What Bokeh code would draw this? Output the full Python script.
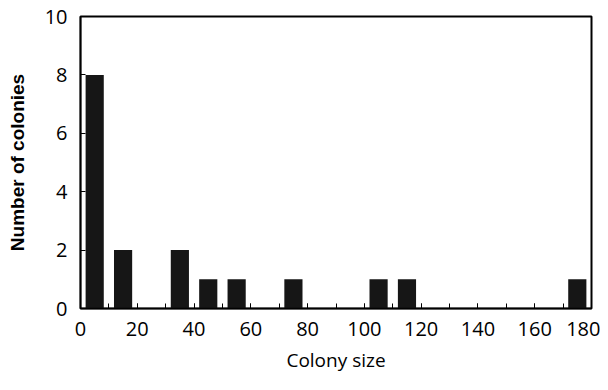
from bokeh.plotting import figure
from bokeh.models import Range1d, FixedTicker
from bokeh.embed import file_html
from bokeh.resources import INLINE

bin_centers = [5, 15, 25, 35, 45, 55, 65, 75, 85, 95, 105, 115, 125, 135, 145, 155, 165, 175]
counts =      [8, 2, 0, 2, 1, 1, 0, 1, 0, 0, 1, 1, 0, 0, 0, 0, 0, 1]
x_ticks = [0, 20, 40, 60, 80, 100, 120, 140, 160, 180]
y_ticks = [0, 2, 4, 6, 8, 10]

p = figure(width=600, height=382, output_backend="svg", toolbar_location=None,
           x_range=Range1d(0, 180), y_range=Range1d(0, 10),
           min_border_left=80, min_border_right=9, min_border_top=16, min_border_bottom=74)

p.vbar(x=bin_centers, top=counts, width=6.4, bottom=0, fill_color="#161616", line_color=None)

p.grid.visible = False
p.outline_line_color = "black"
p.outline_line_width = 2
p.outline_line_alpha = 1

for ax in (p.xaxis, p.yaxis):
    ax.axis_line_color = "black"
    ax.axis_line_width = 1.5
    ax.major_tick_out = 0
    ax.major_tick_in = 5
    ax.major_tick_line_color = "black"
    ax.major_label_text_font = "Open Sans"
    ax.major_label_text_font_size = "20px"
    ax.major_label_text_color = "black"

p.xaxis.ticker = FixedTicker(ticks=x_ticks, minor_ticks=list(range(0, 181, 10)))
p.xaxis.minor_tick_in = 5
p.xaxis.minor_tick_out = 0
p.xaxis.minor_tick_line_color = "black"
p.xaxis.major_label_standoff = 13
p.xaxis.axis_label = "Colony size"
p.xaxis.axis_label_text_font = "Open Sans"
p.xaxis.axis_label_text_font_style = "normal"
p.xaxis.axis_label_text_font_size = "19px"
p.xaxis.axis_label_standoff = 8
p.xaxis.axis_label_text_color = "black"

p.yaxis.ticker = FixedTicker(ticks=y_ticks)
p.yaxis.minor_tick_line_color = None
p.yaxis.major_label_standoff = 13
p.yaxis.axis_label = "Number of colonies"
p.yaxis.axis_label_text_font = "Liberation Sans"
p.yaxis.axis_label_text_font_style = "bold"
p.yaxis.axis_label_text_font_size = "19px"
p.yaxis.axis_label_standoff = 14
p.yaxis.axis_label_text_color = "black"

open("out.html", "w").write(file_html(p, INLINE))
